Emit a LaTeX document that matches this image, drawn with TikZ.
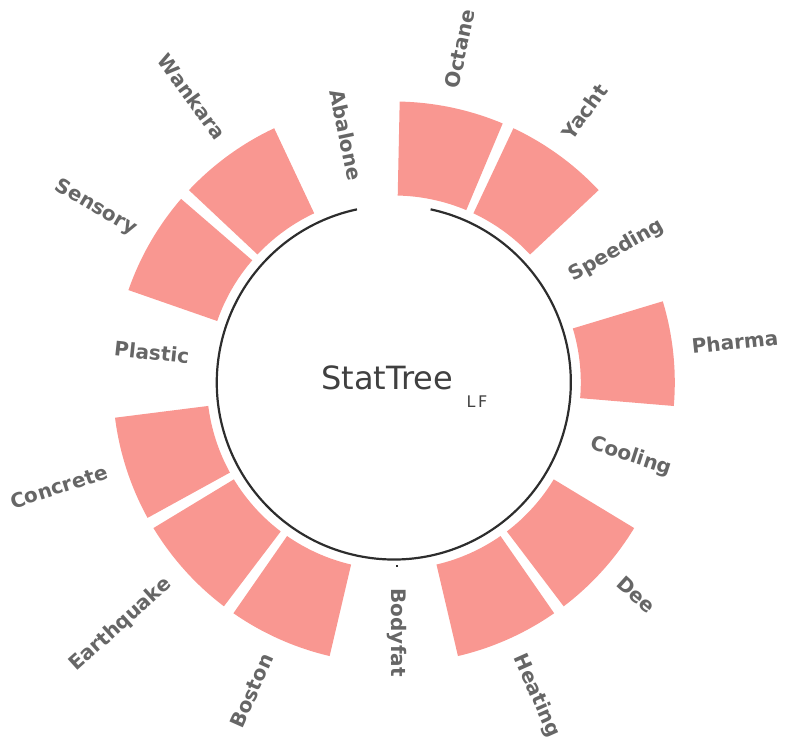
\documentclass[tikz,border=0pt]{standalone}
\usepackage{fontspec}
\setmainfont{DejaVu Sans}
\definecolor{barfill}{RGB}{249,151,145}
\definecolor{labgray}{RGB}{102,102,102}
\definecolor{titlegray}{RGB}{64,64,64}
\definecolor{axisline}{RGB}{45,45,45}
\begin{document}
\begin{tikzpicture}[x=1pt,y=1pt,
  bar/.style={fill=barfill},
  axis/.style={draw=axisline, line width=2.2pt},
  lab/.style={font=\fontsize{20}{24}\selectfont\bfseries, text=labgray, inner sep=0pt},
  title/.style={font=\fontsize{32}{38}\selectfont, text=titlegray, inner sep=0pt, anchor=base west},
  subtitle/.style={font=\fontsize{16}{19}\selectfont, text=titlegray, inner sep=0pt, anchor=base west}]
\useasboundingbox (0,0) rectangle (785,742);
\coordinate (C) at (393.8,359.5);
\begin{scope}[shift={(C)}]
\foreach \k in {0,1,3,5,6,8,9,10,12,13}{
  \pgfmathsetmacro\aa{90-(\k*24+1.2)}
  \pgfmathsetmacro\ab{90-(\k*24+22.8)}
  \fill[bar] (\aa:187pt) arc[start angle=\aa, end angle=\ab, radius=187pt]
     -- (\ab:281pt) arc[start angle=\ab, end angle=\aa, radius=281pt] -- cycle;
}
\draw[axis] (78:177pt) arc[start angle=78, end angle=-258, radius=177pt];
\foreach \k/\name/\r in {0/Octane/300, 1/Yacht/300, 2/Speeding/206, 3/Pharma/300, 4/Cooling/206, 5/Dee/300, 6/Heating/300, 7/Bodyfat/206}{
  \pgfmathsetmacro\t{\k*24+12}
  \node[lab, anchor=mid west, rotate=90-\t] (L\k) at (90-\t:\r pt) {\name};
}
\foreach \k/\name/\r in {8/Boston/300, 9/Earthquake/300, 10/Concrete/300, 11/Plastic/206, 12/Sensory/300, 13/Wankara/300, 14/Abalone/206}{
  \pgfmathsetmacro\t{\k*24+12}
  \node[lab, anchor=mid east, rotate=270-\t] (L\k) at (90-\t:\r pt) {\name};
}
\end{scope}
\fill[axisline] (395.5,174.6) rectangle (397.9,177.0);
\node[title] (T) at (321,352) {StatTree};
\node[subtitle] (S) at (466.5,334) {L\kern2.5pt F};
\end{tikzpicture}
\end{document}
